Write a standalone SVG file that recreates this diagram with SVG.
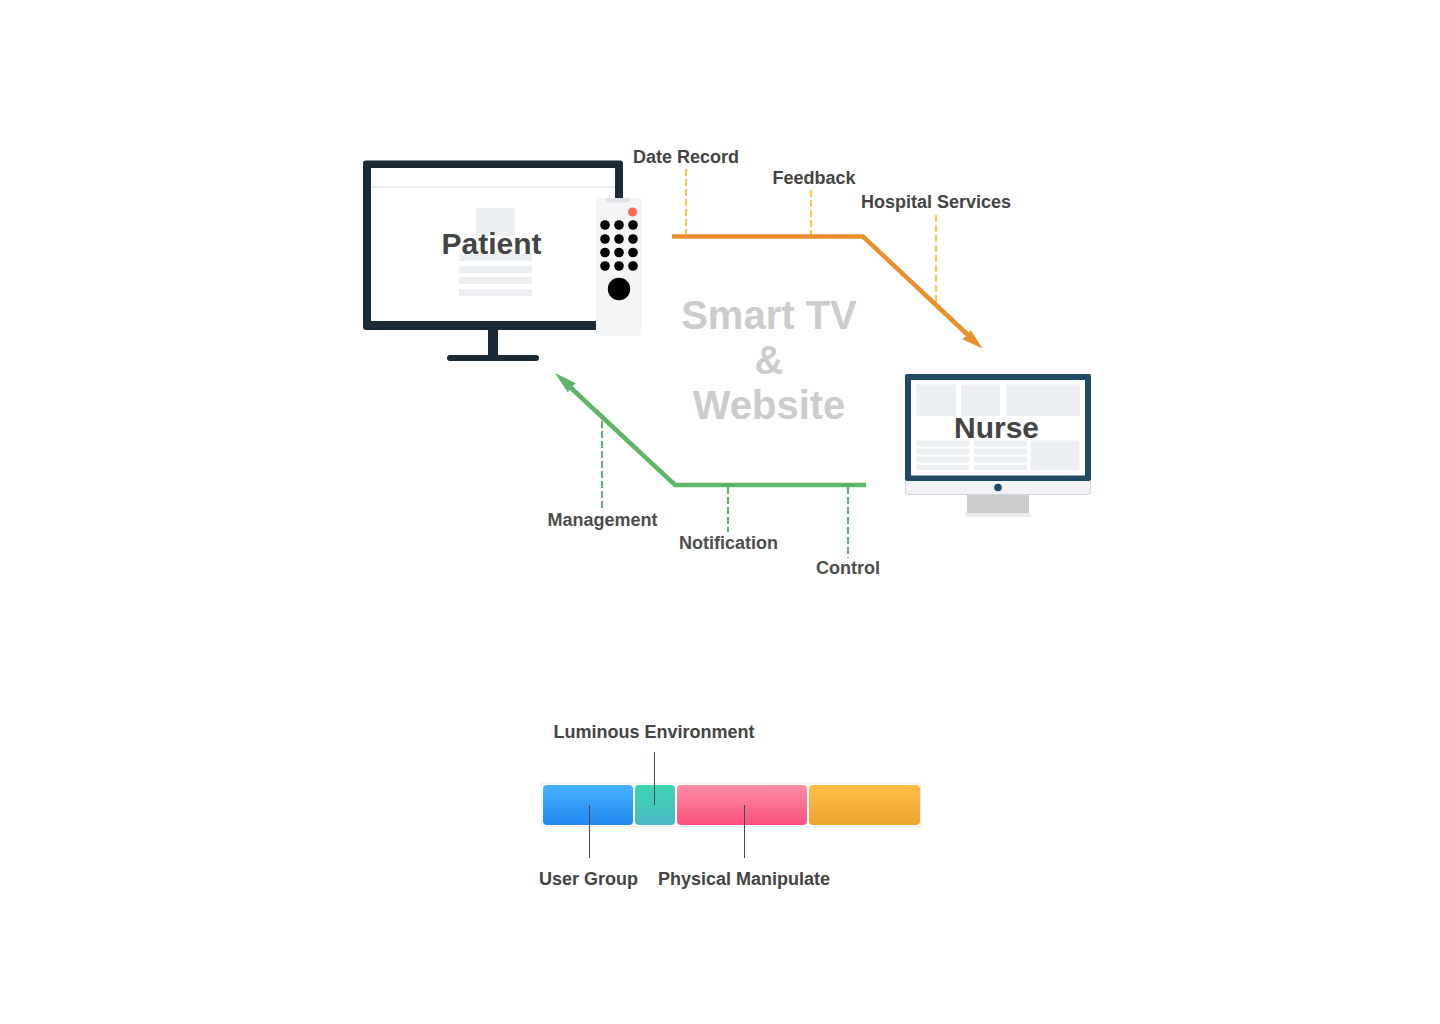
<svg xmlns="http://www.w3.org/2000/svg" width="1440" height="1024" viewBox="0 0 1440 1024">
<defs>
<style>
text{font-family:"Liberation Sans",Arial,sans-serif;font-weight:700;text-anchor:middle}
.lb{font-size:18px;fill:#444444}
.lg{font-size:18px;fill:#4d4d4d}
.big{font-size:30px;fill:#444444}
.hub{font-size:40px;fill:#cccccc}
.pale{fill:#ebeff2}
.dot{fill:#000000}
.or{fill:none;stroke:#e98f2e;stroke-width:4.500}
.gr{fill:none;stroke:#5cb666;stroke-width:4.500}
.dy{stroke:#ffc73f;stroke-width:2;stroke-dasharray:7 3;fill:none}
.dg{stroke:#5cb666;stroke-width:2;stroke-dasharray:7 3;fill:none}
.ln{stroke:#3f4a54;stroke-width:1;fill:none}
</style>
<linearGradient id="gb" x1="0" y1="0" x2="0" y2="1"><stop offset="0" stop-color="#47b2fc"/><stop offset="1" stop-color="#1f88f0"/></linearGradient>
<linearGradient id="gt" x1="0" y1="0" x2="0" y2="1"><stop offset="0" stop-color="#3dd6b0"/><stop offset="1" stop-color="#4ab8c4"/></linearGradient>
<linearGradient id="gp" x1="0" y1="0" x2="0" y2="1"><stop offset="0" stop-color="#ff8fa6"/><stop offset="1" stop-color="#fb4f7c"/></linearGradient>
<linearGradient id="gy" x1="0" y1="0" x2="0" y2="1"><stop offset="0" stop-color="#ffbd48"/><stop offset="1" stop-color="#eba72b"/></linearGradient>
</defs>
<g id="patient">
<rect x="363" y="160.500" width="260" height="169.500" rx="3" fill="#1a2a36"/>
<rect x="371" y="168" width="244" height="153" fill="#ffffff"/>
<rect x="371" y="186" width="244" height="2" fill="#ebeff2"/>
<rect x="488" y="329" width="10" height="26" fill="#1a2a36"/>
<rect x="447" y="355" width="92" height="6" rx="3" fill="#1a2a36"/>
<rect class="pale" x="476" y="208" width="39" height="28"/>
<rect class="pale" x="459" y="254" width="73" height="7"/>
<rect class="pale" x="459" y="266" width="73" height="7"/>
<rect class="pale" x="459" y="277" width="73" height="7"/>
<rect class="pale" x="459" y="289" width="73" height="7"/>
<text class="big" x="491.500" y="254">Patient</text>
</g>
<g id="remote">
<rect x="596" y="198" width="46" height="138" rx="4" fill="#f4f5f7"/>
<path d="M605 198h26l-2 3.500q-1 1-3 1h-16q-2 0-3-1z" fill="#dfe2e6"/>
<circle cx="632.500" cy="212" r="4.500" fill="#fb6a58"/>
<circle class="dot" cx="605" cy="225" r="4.800"/><circle class="dot" cx="619" cy="225" r="4.800"/><circle class="dot" cx="633" cy="225" r="4.800"/>
<circle class="dot" cx="605" cy="239" r="4.800"/><circle class="dot" cx="619" cy="239" r="4.800"/><circle class="dot" cx="633" cy="239" r="4.800"/>
<circle class="dot" cx="605" cy="252.500" r="4.800"/><circle class="dot" cx="619" cy="252.500" r="4.800"/><circle class="dot" cx="633" cy="252.500" r="4.800"/>
<circle class="dot" cx="605" cy="266" r="4.800"/><circle class="dot" cx="619" cy="266" r="4.800"/><circle class="dot" cx="633" cy="266" r="4.800"/>
<circle class="dot" cx="619" cy="289" r="11.200"/>
</g>
<g id="nurse">
<rect x="905.500" y="480" width="185" height="14.500" rx="2" fill="#f1f2f3" stroke="#ccd6dc" stroke-width="1"/>
<rect x="905" y="374" width="186" height="107" rx="2" fill="#1e4a64"/>
<rect x="911" y="380" width="174" height="95.500" fill="#ffffff"/>
<circle cx="998" cy="487.500" r="3.800" fill="#1e4a64"/>
<rect x="967" y="495" width="62" height="18.500" fill="#cbcbcb"/>
<rect x="965" y="513.500" width="66" height="3.500" fill="#ebeff2"/>
<rect class="pale" x="916.500" y="384.500" width="39.500" height="31.500"/>
<rect class="pale" x="961" y="384.500" width="39" height="31.500"/>
<rect class="pale" x="1006" y="384.500" width="74" height="31.500"/>
<rect class="pale" x="1031" y="440.500" width="48.500" height="30"/>
<rect class="pale" x="916.500" y="440.500" width="52.500" height="6"/><rect class="pale" x="974" y="440.500" width="52.500" height="6"/>
<rect class="pale" x="916.500" y="448.500" width="52.500" height="6"/><rect class="pale" x="974" y="448.500" width="52.500" height="6"/>
<rect class="pale" x="916.500" y="456.500" width="52.500" height="6"/><rect class="pale" x="974" y="456.500" width="52.500" height="6"/>
<rect class="pale" x="916.500" y="465" width="52.500" height="5"/><rect class="pale" x="974" y="465" width="52.500" height="5"/>
<text class="big" x="996.500" y="438">Nurse</text>
</g>
<g id="connectors">
<path class="dy" d="M686 169V235"/>
<path class="dy" d="M811 190V235"/>
<path class="dy" d="M936 215V303"/>
<path class="or" d="M672 236.500H863L968 335"/>
<path d="M982.500 348.500L962.300 339.300L967 335.500L970.700 330z" fill="#e98f2e"/>
<path class="dg" d="M602 421V510"/>
<path class="dg" d="M728 487V532"/>
<path class="dg" d="M848 487V558"/>
<path class="gr" d="M866 485H675L570 387"/>
<path d="M555 373L575.700 383.300L571.500 387.500L567.700 392.300z" fill="#5cb666"/>
</g>
<g id="hub">
<text class="hub" x="769" y="329">Smart TV</text>
<text class="hub" x="769" y="374">&amp;</text>
<text class="hub" x="769" y="419">Website</text>
</g>
<g id="labels">
<text class="lb" x="686" y="163">Date Record</text>
<text class="lb" x="814" y="184">Feedback</text>
<text class="lb" x="936" y="208">Hospital Services</text>
<text class="lg" x="602.500" y="526">Management</text>
<text class="lg" x="728.500" y="549">Notification</text>
<text class="lg" x="848" y="574">Control</text>
</g>
<g id="bar">
<rect x="541.500" y="783.500" width="379" height="43" fill="#ffffff" stroke="#eeeeee" stroke-width="1"/>
<rect x="543" y="785" width="90" height="40" rx="4" fill="url(#gb)"/>
<rect x="635" y="785" width="40" height="40" rx="4" fill="url(#gt)"/>
<rect x="677" y="785" width="130" height="40" rx="4" fill="url(#gp)"/>
<rect x="809" y="785" width="111" height="40" rx="4" fill="url(#gy)"/>
</g>
<g id="bar-connectors">
<path class="ln" d="M654.500 752V805"/>
<path class="ln" d="M589.500 805V858"/>
<path class="ln" d="M744.500 805V858"/>
</g>
<g id="bar-labels">
<text class="lb" x="654" y="738">Luminous Environment</text>
<text class="lb" x="588.500" y="885">User Group</text>
<text class="lb" x="744" y="885">Physical Manipulate</text>
</g>
</svg>
